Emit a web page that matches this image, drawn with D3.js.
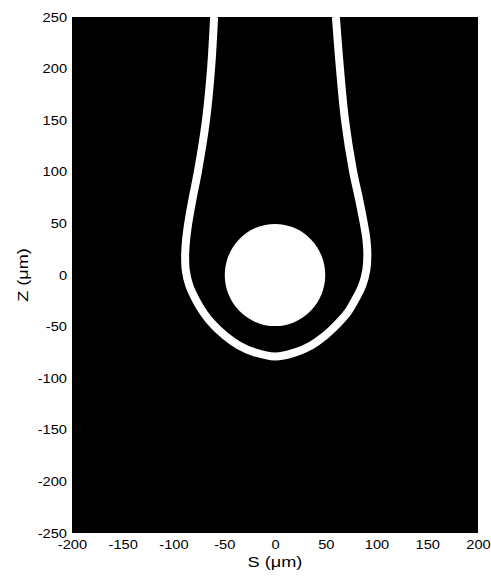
<!DOCTYPE html>
<html>
<head>
<meta charset="utf-8">
<script src="https://cdn.jsdelivr.net/npm/d3@7"></script>
<style>
  html, body { margin: 0; padding: 0; background: #fff; }
  svg text { font-family: "Liberation Sans", Arial, Helvetica, sans-serif; fill: #000; }
</style>
</head>
<body>
<svg id="chart" width="491" height="578"></svg>
<script>
// Axis ranges and tick values (micrometres)
const sDomain = [-200, 200];
const zDomain = [-250, 250];
const sTicks = [-200, -150, -100, -50, 0, 50, 100, 150, 200];
const zTicks = [-250, -200, -150, -100, -50, 0, 50, 100, 150, 200, 250];

// Particle: centre and radius
const particleS = 0;
const particleZ = 0;
const particleR = 49.5;

// Meniscus profile, traced from left top branch round the bottom to right top branch
const meniscusS = [-60, -63, -68, -76, -81, -85.5, -87.5, -88.5, -88, -84.5, -78, -70, -61, -49, -36, -20, 0,
                   20, 36, 49, 61, 71, 79, 86, 90, 91, 90, 87.5, 82.5, 77, 69, 64, 60];
const meniscusZ = [250, 200, 150, 100, 75, 50, 35, 20, 5, -10, -24, -37, -48, -59, -68, -75, -79,
                   -75, -68, -59, -48, -37, -24, -10, 5, 20, 35, 50, 75, 100, 150, 200, 250];

const svg = d3.select("#chart");
const m = { left: 72, right: 478, top: 17, bottom: 533 };

const x = d3.scaleLinear().domain(sDomain).range([m.left, m.right]);
const y = d3.scaleLinear().domain(zDomain).range([m.bottom, m.top]);

svg.append("defs").append("clipPath").attr("id", "plot-clip")
  .append("rect").attr("x", m.left).attr("y", m.top)
  .attr("width", m.right - m.left).attr("height", m.bottom - m.top);

// Plot area background
svg.append("rect")
  .attr("x", m.left).attr("y", m.top)
  .attr("width", m.right - m.left).attr("height", m.bottom - m.top)
  .attr("fill", "#000");

const plot = svg.append("g").attr("clip-path", "url(#plot-clip)");

// Meniscus line
const pts = meniscusS.map((s, i) => [s, meniscusZ[i]]);
plot.append("path")
  .datum(pts)
  .attr("d", d3.line().x(d => x(d[0])).y(d => y(d[1])).curve(d3.curveCatmullRom.alpha(0.5)))
  .attr("fill", "none")
  .attr("stroke", "#fff")
  .attr("stroke-width", 8)
  .attr("stroke-linejoin", "round");

// Particle
plot.append("ellipse")
  .attr("cx", x(particleS)).attr("cy", y(particleZ))
  .attr("rx", x(particleR) - x(0)).attr("ry", y(0) - y(particleR))
  .attr("fill", "#fff");

// Axes (ticks hidden under the black field, only labels shown)
const fmt = d => String(d);
const xAxis = svg.append("g")
  .attr("transform", `translate(0,${m.bottom})`)
  .call(d3.axisBottom(x).tickValues(sTicks).tickSize(0).tickPadding(7).tickFormat(fmt));
const yAxis = svg.append("g")
  .attr("transform", `translate(${m.left},0)`)
  .call(d3.axisLeft(y).tickValues(zTicks).tickSize(0).tickPadding(5).tickFormat(fmt));
[xAxis, yAxis].forEach(g => {
  g.select(".domain").remove();
  g.selectAll("text").attr("font-size", 12.5).style("fill", "#000");
  g.attr("font-family", null).attr("font-size", null);
});

// Axis titles
svg.append("text")
  .attr("x", (m.left + m.right) / 2).attr("y", 567)
  .attr("text-anchor", "middle")
  .attr("font-size", 15.5)
  .text("S (\u03bcm)");
svg.append("text")
  .attr("transform", `translate(28,${(m.top + m.bottom) / 2}) rotate(-90)`)
  .attr("text-anchor", "middle")
  .attr("font-size", 15.5)
  .text("Z (\u03bcm)");

// Widen glyphs slightly to the broader lettering of the figure
svg.selectAll("text").each(function() {
  const len = this.getComputedTextLength();
  d3.select(this).attr("textLength", len * 1.17).attr("lengthAdjust", "spacingAndGlyphs");
});
</script>
</body>
</html>
